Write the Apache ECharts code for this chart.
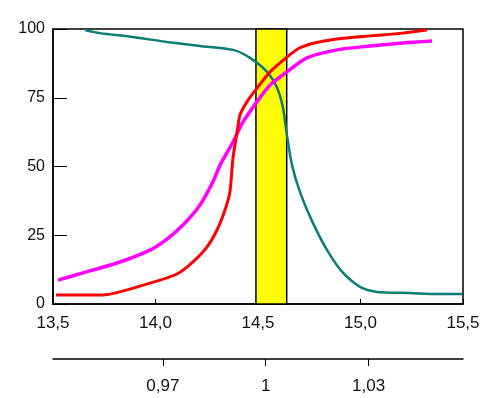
<!DOCTYPE html>
<html>
<head>
<meta charset="utf-8">
<title>chart</title>
<script src="https://cdn.jsdelivr.net/npm/echarts@6/dist/echarts.min.js"></script>
<style>
  html, body { margin: 0; padding: 0; background: #fff; }
  #chart { width: 490px; height: 398px; }
</style>
</head>
<body>
<div id="chart"></div>
<script>
// 三条曲线的数据, [x, y]
var redData = [
    [13.515, 3.3], [13.744, 3.3], [13.973, 7.6], [14.105, 10.9], [14.183, 15.3],
    [14.251, 20.7], [14.300, 26.9], [14.339, 34.2], [14.363, 40.7], [14.378, 53.1],
    [14.398, 62.5], [14.412, 68.7], [14.446, 73.5], [14.495, 78.5], [14.559, 84.4],
    [14.641, 89.8], [14.700, 93.0], [14.780, 95.0], [14.885, 96.4], [15.046, 97.5],
    [15.207, 98.5], [15.324, 99.6]
];
var magentaData = [
    [13.524, 8.7], [13.646, 11.3], [13.812, 14.9], [13.973, 19.6], [14.056, 23.6],
    [14.134, 28.7], [14.217, 36.0], [14.280, 44.4], [14.315, 50.5], [14.378, 58.9],
    [14.427, 66.2], [14.495, 73.5], [14.559, 79.6], [14.641, 84.4], [14.739, 89.5],
    [14.885, 92.4], [15.046, 93.8], [15.207, 94.9], [15.349, 95.6]
];
var tealData = [
    [13.656, 99.6], [13.729, 98.5], [13.890, 97.1], [14.056, 95.3], [14.217, 93.8],
    [14.378, 92.4], [14.461, 89.5], [14.544, 84.4], [14.593, 78.6], [14.622, 71.3],
    [14.641, 61.5], [14.666, 50.5], [14.705, 40.7], [14.768, 29.5], [14.837, 19.6],
    [14.915, 11.3], [14.998, 6.2], [15.080, 4.4], [15.241, 4.0], [15.373, 3.6],
    [15.495, 3.6]
];
var bandRange = [14.49, 14.64];          // 黄色区域
var ratioTicks = [0.97, 1, 1.03];        // 下方第二坐标轴刻度

var fontName = '"Liberation Sans", Arial, sans-serif';
function comma(v) { return String(v).replace('.', ','); }

var myChart = echarts.init(document.getElementById('chart'));
var option = {
    animation: false,
    grid: {
        left: 53, top: 29, right: 27, bottom: 94,
        show: true, borderColor: '#000', borderWidth: 1.5, backgroundColor: 'transparent'
    },
    xAxis: [
        {
            type: 'value', min: 13.5, max: 15.5, interval: 0.5,
            axisLine: { lineStyle: { color: '#000', width: 1.5 } },
            axisTick: { inside: true, length: 5, lineStyle: { color: '#000' } },
            splitLine: { show: false },
            axisLabel: {
                color: '#111', fontSize: 17, fontFamily: fontName, margin: 11,
                formatter: function (v) { return comma(v.toFixed(1)); }
            }
        },
        {
            type: 'value', min: 0.938, max: 1.0575, position: 'bottom', offset: 55,
            axisLine: { show: true, onZero: false, lineStyle: { color: '#000', width: 1.5 } },
            axisTick: { show: true, length: 7, customValues: ratioTicks, lineStyle: { color: '#000' } },
            splitLine: { show: false },
            axisLabel: {
                color: '#111', fontSize: 17, fontFamily: fontName, margin: 19,
                customValues: ratioTicks,
                formatter: function (v) { return comma(v); }
            }
        }
    ],
    yAxis: {
        type: 'value', min: 0, max: 100, interval: 25,
        axisLine: { show: true, lineStyle: { color: '#000', width: 1.5 } },
        axisTick: { show: true, inside: true, length: 14, lineStyle: { color: '#000' } },
        splitLine: { show: false },
        axisLabel: { color: '#111', fontSize: 16, fontFamily: fontName, margin: 8 }
    },
    series: [
        {
            type: 'line', data: [], z: 1, silent: true,
            markArea: {
                silent: true,
                itemStyle: { color: '#ffff00', borderColor: '#000', borderWidth: 1.5, opacity: 1 },
                data: [[{ xAxis: bandRange[0] }, { xAxis: bandRange[1] }]]
            }
        },
        {
            name: 'teal', type: 'line', data: tealData, z: 3, showSymbol: false, smooth: 0.25,
            lineStyle: { color: '#0a7d74', width: 2.5 }
        },
        {
            name: 'magenta', type: 'line', data: magentaData, z: 4, showSymbol: false, smooth: 0.25,
            lineStyle: { color: '#ff00ff', width: 3.5 }
        },
        {
            name: 'red', type: 'line', data: redData, z: 5, showSymbol: false, smooth: 0.25,
            lineStyle: { color: '#ff0000', width: 3 }
        }
    ]
};
myChart.setOption(option);
</script>
</body>
</html>
